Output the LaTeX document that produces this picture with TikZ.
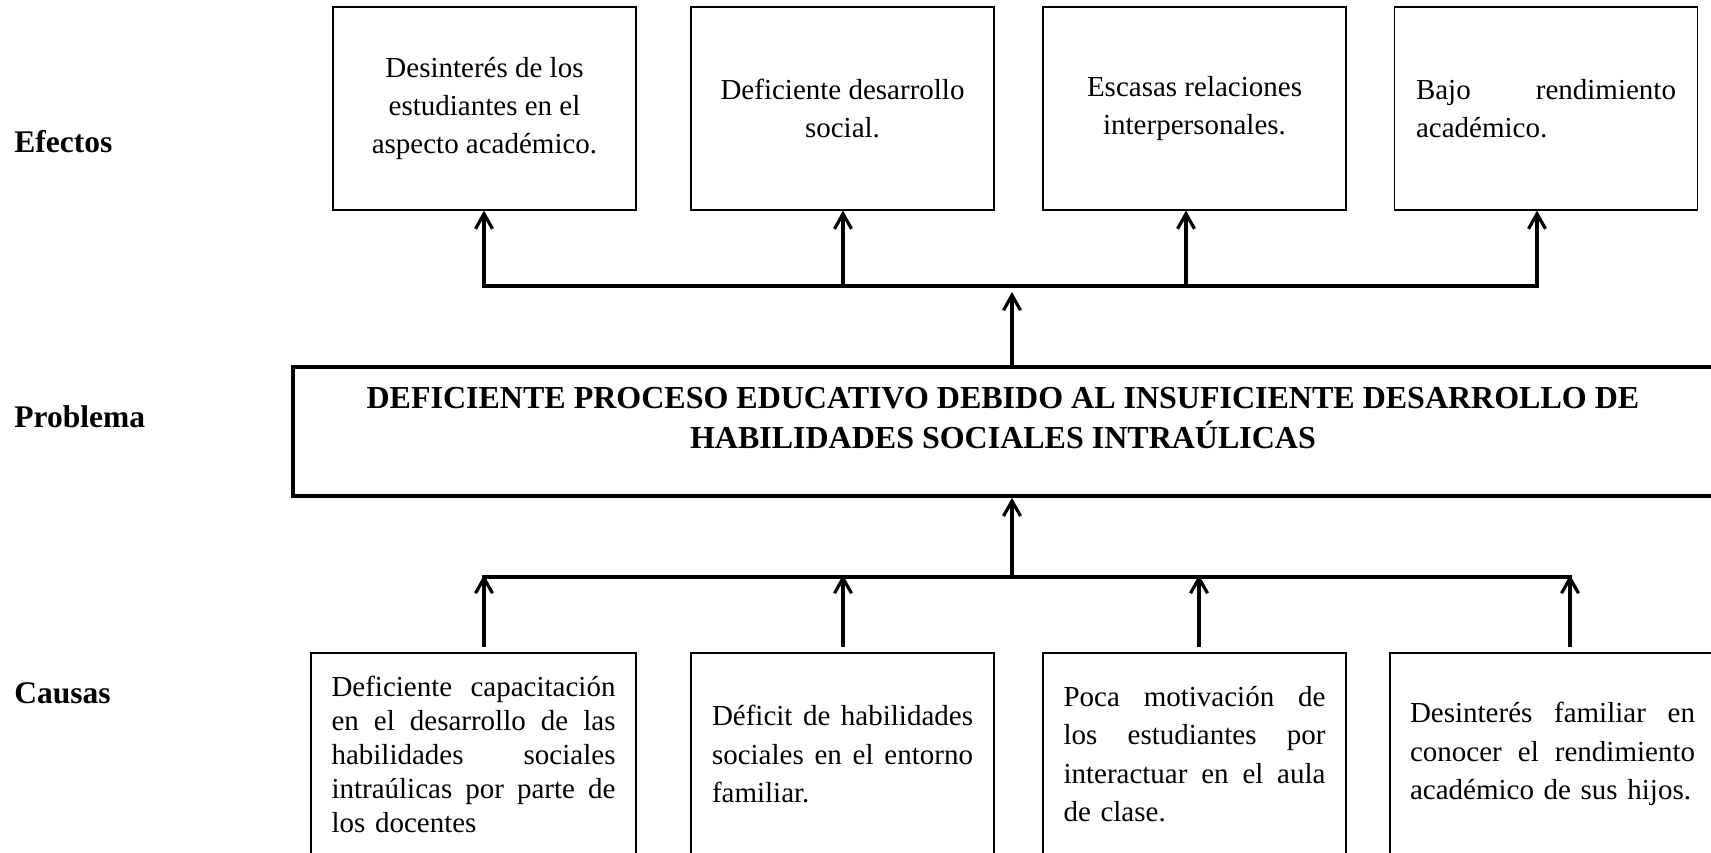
\documentclass[tikz,border=0pt]{standalone}
\usepackage{fontspec}
\setmainfont{Liberation Serif}
\usetikzlibrary{arrows.meta}
\newcommand\jline[2]{\leavevmode\hbox to #1{\spaceskip=0.25em plus 1fil\relax #2}}
\begin{document}
\begin{tikzpicture}[x=0.5pt,y=-0.5pt,
  lbl/.style={anchor=west,inner sep=0pt,font=\fontsize{15.75}{20}\selectfont\bfseries},
  ebox/.style={draw,line width=0.6pt,minimum width=151.5pt,minimum height=101.5pt,inner sep=0pt,align=center,font=\fontsize{14.5}{19}\selectfont},
  cbox/.style={draw,line width=0.6pt,minimum height=101pt,inner sep=0pt,align=left,font=\fontsize{14.5}{19.25}\selectfont},
  pbox/.style={draw,line width=1.8pt,minimum width=710pt,minimum height=64.5pt,inner sep=0pt},
  ptext/.style={inner sep=0pt,align=center,font=\fontsize{16}{20}\selectfont\bfseries},
  arr/.style={line width=1.6pt,-{Straight Barb[length=7.5pt,width=8.5pt]}},
  bar/.style={line width=1.7pt,line cap=rect}]
\useasboundingbox (0,0) rectangle (1711,852);
\clip (0,0) rectangle (1711,852);
% row labels
\node[lbl] (lef) at (14,142) {Efectos};
\node[lbl] (lpr) at (14,417) {Problema};
\node[lbl] (lca) at (14,693) {Causas};
% effects
\node[ebox] (e1) at (484.5,108.5) {Desinterés de los\\estudiantes en el\\aspecto académico.};
\node[ebox] (e2) at (842.5,108.5) {Deficiente desarrollo\\social.};
\node[ebox] (e3) at (1194.5,108.5) {Escasas relaciones\\interpersonales.};
\node[ebox,text width=130pt,align=left] (e4) at (1546,108.5) {\jline{130pt}{Bajo rendimiento}\\académico.};
% problem
\node[pbox] (prob) at (1003,431.5) {};
\node[ptext] (ptx) at (1003,418) {DEFICIENTE PROCESO EDUCATIVO DEBIDO AL INSUFICIENTE DESARROLLO DE\\HABILIDADES SOCIALES INTRAÚLICAS};
% causes
\node[cbox,minimum width=162.5pt,text width=142pt,font=\fontsize{14.5}{17}\selectfont] (c1) at (473.5,754)
 {\jline{142pt}{Deficiente capacitación}\\\jline{142pt}{en el desarrollo de las}\\\jline{142pt}{habilidades sociales}\\\jline{142pt}{intraúlicas por parte de}\\los docentes};
\node[cbox,minimum width=151.5pt,text width=130.5pt] (c2) at (842.5,754)
 {\jline{130.5pt}{Déficit de habilidades}\\\jline{130.5pt}{sociales en el entorno}\\familiar.};
\node[cbox,minimum width=151.5pt,text width=131pt] (c3) at (1194.5,754)
 {\jline{131pt}{Poca motivación de}\\\jline{131pt}{los estudiantes por}\\\jline{131pt}{interactuar en el aula}\\de clase.};
\node[cbox,minimum width=162.5pt,text width=142.5pt] (c4) at (1552.5,754)
 {\jline{142.5pt}{Desinterés familiar en}\\\jline{142.5pt}{conocer el rendimiento}\\académico de sus hijos.};
% top distribution bar
\coordinate (t1) at (484,286);
\coordinate (t2) at (843,286);
\coordinate (t3) at (1186,286);
\coordinate (t4) at (1537,286);
\coordinate (tm) at (1012,292);
\draw[bar] (t1) -- (t4);
\draw[arr] (t1) -- (t1 |- e1.south);
\draw[arr] (t2) -- (t2 |- e2.south);
\draw[arr] (t3) -- (t3 |- e3.south);
\draw[arr] (t4) -- (t4 |- e4.south);
\draw[arr] (tm |- prob.north) -- (tm);
% bottom collection bar
\coordinate (b1) at (484,575);
\coordinate (b2) at (843,575);
\coordinate (b3) at (1199,575);
\coordinate (b4) at (1570,575);
\coordinate (bm) at (1012,577);
\coordinate (s1) at (484,647);
\coordinate (s2) at (843,647);
\coordinate (s3) at (1199,647);
\coordinate (s4) at (1570,647);
\draw[bar] (484,577) -- (1570,577);
\draw[arr] (s1) -- (b1);
\draw[arr] (s2) -- (b2);
\draw[arr] (s3) -- (b3);
\draw[arr] (s4) -- (b4);
\draw[arr] (bm) -- (bm |- prob.south);
\end{tikzpicture}
\end{document}
